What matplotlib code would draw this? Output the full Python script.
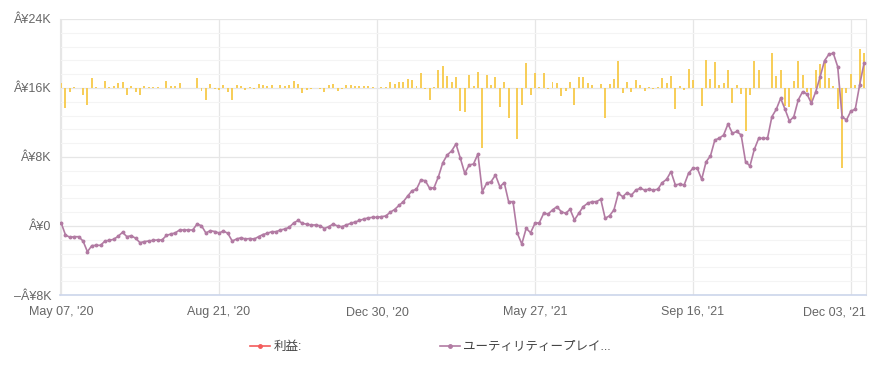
import numpy as np
import matplotlib
matplotlib.use("Agg")
import matplotlib.pyplot as plt
import matplotlib.transforms as mtransforms
from matplotlib.lines import Line2D

plt.rcParams['font.family'] = ['Liberation Sans', 'Noto Sans CJK JP', 'DejaVu Sans']

# cumulative P/L (K yen), one value per trading point
cum_k = [
    0.38, -1.04, -1.31, -1.24, -1.24, -1.74, -2.98, -2.28, -2.24, -2.24,
    -1.74, -1.66, -1.54, -1.19, -0.73, -1.24, -1.12, -1.43, -1.94, -1.80,
    -1.74, -1.66, -1.62, -1.62, -1.10, -0.93, -0.81, -0.46, -0.46, -0.46,
    -0.46, 0.23, 0.03, -0.81, -0.54, -0.64, -0.81, -0.58, -0.85, -1.74,
    -1.51, -1.36, -1.51, -1.45, -1.51, -1.24, -0.99, -0.85, -0.66, -0.66,
    -0.46, -0.35, -0.15, 0.35, 0.64, 0.31, 0.20, 0.12, 0.12, 0.03,
    -0.29, -0.08, 0.23, 0.00, -0.08, 0.12, 0.31, 0.46, 0.64, 0.81,
    0.93, 1.01, 1.01, 1.08, 1.16, 1.59, 1.91, 2.38, 2.82, 3.48,
    4.09, 4.26, 5.33, 5.25, 4.37, 4.44, 5.72, 7.34, 8.23, 8.70,
    9.51, 7.85, 6.11, 7.07, 7.19, 8.35, 3.98, 4.95, 5.14, 5.91,
    4.56, 5.02, 2.82, 2.82, -0.85, -2.09, -0.27, -0.78, 0.31, 0.38,
    1.47, 1.39, 1.86, 2.24, 1.66, 1.47, 1.94, 0.70, 1.47, 2.24,
    2.63, 2.82, 2.82, 3.10, 0.89, 1.19, 1.86, 3.79, 3.40, 3.86,
    3.59, 4.17, 4.37, 4.17, 4.26, 4.17, 4.26, 5.02, 5.41, 6.30,
    4.75, 4.87, 4.75, 6.11, 6.69, 6.69, 5.41, 7.45, 8.12, 9.97,
    10.17, 10.55, 11.83, 10.75, 10.96, 10.55, 7.45, 6.96, 8.89, 10.17,
    10.17, 10.17, 12.67, 13.53, 14.81, 13.53, 12.17, 12.67, 14.61, 15.57,
    15.30, 14.23, 15.57, 17.31, 19.17, 19.91, 20.02, 18.47, 12.67, 12.29,
    13.33, 13.53, 16.35, 18.86,
]

# daily profit (K yen)
profit_k = [
    0.38, -1.42, -0.27, 0.07, 0.00, -0.50, -1.24, 0.70, 0.04, 0.00,
    0.50, 0.08, 0.12, 0.35, 0.46, -0.51, 0.12, -0.31, -0.51, 0.14,
    0.06, 0.08, 0.04, 0.00, 0.52, 0.17, 0.12, 0.35, 0.00, 0.00,
    0.00, 0.69, -0.20, -0.84, 0.27, -0.10, -0.17, 0.23, -0.27, -0.89,
    0.23, 0.15, -0.15, 0.06, -0.06, 0.27, 0.25, 0.14, 0.19, 0.00,
    0.20, 0.11, 0.20, 0.50, 0.29, -0.33, -0.11, -0.08, 0.00, -0.09,
    -0.32, 0.21, 0.31, -0.23, -0.08, 0.20, 0.19, 0.15, 0.18, 0.17,
    0.12, 0.08, 0.00, 0.07, 0.08, 0.43, 0.32, 0.47, 0.44, 0.66,
    0.61, 0.17, 1.07, -0.08, -0.88, 0.07, 1.28, 1.62, 0.89, 0.47,
    0.81, -1.66, -1.74, 0.96, 0.12, 1.16, -4.37, 0.97, 0.19, 0.77,
    -1.35, 0.46, -2.20, 0.00, -3.67, -1.24, 1.82, -0.51, 1.09, 0.07,
    1.09, -0.08, 0.47, 0.38, -0.58, -0.19, 0.47, -1.24, 0.77, 0.77,
    0.39, 0.19, 0.00, 0.28, -2.21, 0.30, 0.67, 1.93, -0.39, 0.46,
    -0.27, 0.58, 0.20, -0.20, 0.09, -0.09, 0.09, 0.76, 0.39, 0.89,
    -1.55, 0.12, -0.12, 1.36, 0.58, 0.00, -1.28, 2.04, 0.67, 1.85,
    0.20, 0.38, 1.28, -1.08, 0.21, -0.41, -3.10, -0.49, 1.93, 1.28,
    0.00, 0.00, 2.50, 0.86, 1.28, -1.28, -1.36, 0.50, 1.94, 0.96,
    -0.27, -1.07, 1.34, 1.74, 1.86, 0.74, 0.11, -1.55, -5.80, -0.38,
    1.04, 0.20, 2.82, 2.51,
]

xtick_pos = [0, 36, 72, 108, 144, 180]
xtick_labels = ["May 07, '20", "Aug 21, '20", "Dec 30, '20", "May 27, '21", "Sep 16, '21", "Dec 03, '21"]
ytick_vals = [-8, 0, 8, 16, 24]
ytick_labels = ['–Â¥8K', 'Â¥0', 'Â¥8K', 'Â¥16K', 'Â¥24K']
legend_labels = ['利益:', 'ユーティリティープレイ...']

line_color = '#b27ba3'
bar_color = '#f7c948'
grey = '#666666'

x = np.arange(len(cum_k))

fig = plt.figure(figsize=(8.71, 3.73), dpi=100)
ax = fig.add_axes([60 / 871, 1 - 295 / 373, 806 / 871, 276 / 373])

# bars live on their own scale: 0 sits on the 16K line, -15K..5K span
bar_tr = mtransforms.Affine2D().scale(1, 1.6).translate(0, 16) + ax.transData
ax.bar(x, profit_k, width=0.45, color=bar_color, alpha=0.9, transform=bar_tr, zorder=2)

ax.plot(x, cum_k, color=line_color, lw=1.2, marker='o', ms=1.8, zorder=3)

ax.set_xlim(-0.25, 183.45)
ax.set_ylim(-8, 24)
ax.set_xticks(xtick_pos)
ax.set_xticklabels(xtick_labels)
ax.set_yticks(ytick_vals)
ax.set_yticklabels(ytick_labels)
ax.set_yticks(np.arange(-8, 24, 1.6), minor=True)
ax.tick_params(axis='both', length=0, labelsize=9, colors=grey)
ax.tick_params(axis='y', pad=6)
ax.tick_params(axis='x', pad=14.5)
ax.tick_params(which='minor', length=0)

# baseline alignment keeps all date labels on one line
for lab in ax.get_xticklabels():
    lab.set_verticalalignment('baseline')
# last date label is pushed left so it stays inside the figure
last = ax.get_xticklabels()[-1]
last.set_horizontalalignment('right')
last.set_transform(last.get_transform() + mtransforms.ScaledTranslation(0.15, 0, fig.dpi_scale_trans))

ax.grid(axis='y', which='major', color='#e6e6e6', lw=0.9, zorder=0)
ax.grid(axis='y', which='minor', color='#f4f4f4', lw=0.8, zorder=0)
ax.grid(axis='x', which='major', color='#e6e6e6', lw=0.9, zorder=0)
ax.set_axisbelow(True)

ax.spines['top'].set_visible(False)
ax.spines['left'].set_color('#e6e6e6')
ax.spines['right'].set_color('#e6e6e6')
ax.spines['bottom'].set_color('#ccd6eb')
ax.spines['bottom'].set_linewidth(1.2)

handles = [
    Line2D([], [], color='#f45b5b', lw=1.2, marker='o', ms=2.5),
    Line2D([], [], color=line_color, lw=1.2, marker='o', ms=2.5),
]
fig.legend(handles, legend_labels, loc='center left', bbox_to_anchor=(250 / 871, 1 - 347 / 373),
           ncol=2, frameon=False, fontsize=9, handlelength=1.6, handletextpad=0.3,
           columnspacing=11.0, borderpad=0, borderaxespad=0, labelcolor='#444444')

fig.savefig('out.png', dpi=100)
